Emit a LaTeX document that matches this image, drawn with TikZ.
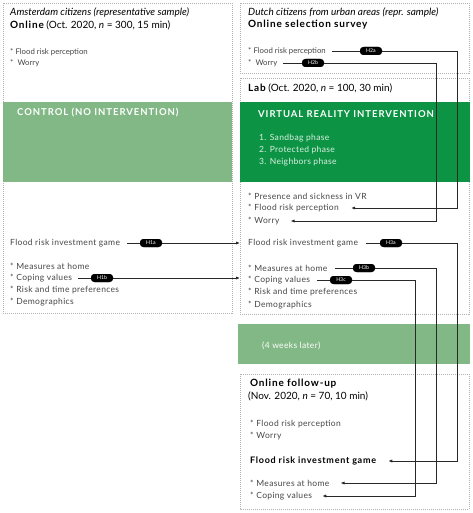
\documentclass[tikz,border=0pt]{standalone}
\usepackage{fontspec}
\setmainfont{Lato}
\newfontfamily\spc[LetterSpace=4]{Lato}
\newfontfamily\wide[LetterSpace=8]{Lato}
\newfontfamily\capsf[LetterSpace=10]{Lato}
\usetikzlibrary{arrows.meta,calc}
\definecolor{dkgreen}{RGB}{12,148,68}
\definecolor{ltgreen}{RGB}{130,184,134}
\definecolor{txt}{RGB}{70,70,70}
\definecolor{ln}{RGB}{40,40,40}
\tikzset{
  box/.style={draw=gray!60, dash pattern=on 1pt off 1pt, line width=0.5pt},
  ttl/.style={anchor=west, inner sep=0pt, font=\fontsize{10}{12}\selectfont, text=black},
  itms/.style={anchor=west, inner sep=0pt, font=\fontsize{7.8}{9}\selectfont, text=txt},
  itm/.style={anchor=west, inner sep=0pt, font=\spc\fontsize{8.5}{10}\selectfont, text=txt},
  band/.style={anchor=west, inner sep=0pt, text=white, font=\capsf\fontsize{9.5}{11}\selectfont\bfseries},
  hyp/.style={fill=black, rounded corners=3.5pt, text=white, font=\fontsize{5.2}{6}\selectfont,
    inner sep=0pt, minimum width=22pt, minimum height=8pt},
  conn/.style={draw=ln, line width=0.8pt},
  arr/.style={conn, -{Latex[length=4pt,width=3.2pt]}},
}
\begin{document}
\begin{tikzpicture}[x=1pt,y=-1pt]
\useasboundingbox (0,0) rectangle (472,513);
% boxes
\draw[box] (3,3) rectangle (232,313);
\fill[ltgreen] (3,102) rectangle (232,182);
\draw[box] (240,3) rectangle (469,73);
\draw[box] (240,78) rectangle (469,314);
\fill[dkgreen] (240,102) rectangle (470,182);
\fill[ltgreen] (238,324) rectangle (470,364);
\draw[box] (240,374) rectangle (469,509);

% left column
\node[ttl] (a1) at (10,12) {\itshape Amsterdam citizens (representative sample)};
\node[ttl] (a2) at (10,25) {{\wide\bfseries Online} (Oct. 2020, \textit{n} = 300, 15 min)};
\node[itms] (a3) at (10,52) {*\ Flood risk perception};
\node[itms] (a4) at (10,63) {*\ \ Worry};
\node[band] (ctl) at (17,113) {CONTROL (NO INTERVENTION)};
\node[itm] (a5) at (10,243) {Flood risk investment game};
\node[itm] (a6) at (10,266) {*\ Measures at home};
\node[itm] (a7) at (10,278) {*\ Coping values};
\node[itm] (a8) at (10,290) {*\ Risk and time preferences};
\node[itm] (a9) at (10,302) {*\ Demographics};

% right top
\node[ttl] (b1) at (248,12) {\itshape Dutch citizens from urban areas (repr. sample)};
\node[ttl] (b2) at (248,25) {\wide\bfseries Online selection survey};
\node[itms] (b3) at (248,51) {*\ Flood risk perception};
\node[itms] (b4) at (248,63) {*\ \ Worry};

% lab
\node[ttl] (c1) at (248,88) {{\wide\bfseries Lab} (Oct. 2020, \textit{n} = 100, 30 min)};
\node[band] (vr) at (258,114) {VIRTUAL REALITY INTERVENTION};
\node[itm, text=white!85!dkgreen] (p1) at (259,138) {1. Sandbag phase};
\node[itm, text=white!85!dkgreen] (p2) at (259,150) {2. Protected phase};
\node[itm, text=white!85!dkgreen] (p3) at (259,162) {3. Neighbors phase};
\node[itm] (c2) at (248,196) {*\ Presence and sickness in VR};
\node[itm] (c3) at (248,208) {*\ Flood risk perception};
\node[itm] (c4) at (248,221) {*\ Worry};
\node[itm] (c5) at (248,243) {Flood risk investment game};
\node[itm] (c6) at (248,268) {*\ Measures at home};
\node[itm] (c7) at (248,280) {*\ Coping values};
\node[itm] (c8) at (248,292) {*\ Risk and time preferences};
\node[itm] (c9) at (248,305) {*\ Demographics};

% 4 weeks
\node[itm, text=white] (wk) at (262,346) {(4 weeks later)};

% follow-up
\node[ttl] (d1) at (250,384) {\wide\bfseries Online follow-up};
\node[ttl] (d2) at (248,396) {(Nov. 2020, \textit{n} = 70, 10 min)};
\node[itm] (d3) at (250,424) {*\ Flood risk perception};
\node[itm] (d4) at (250,436) {*\ Worry};
\node[ttl, font=\wide\fontsize{9}{10}\selectfont\bfseries] (d5) at (250,461) {Flood risk investment game};
\node[itm] (d6) at (250,483) {*\ Measures at home};
\node[itm] (d7) at (250,496) {*\ Coping values};

% hypothesis pills (positions)
\node[hyp] (h1a) at (151,243) {H1a};
\node[hyp] (h1b) at (102,278) {H1b};
\node[hyp] (h2a) at (371,51) {H2a};
\node[hyp] (h2b) at (313,63) {H2b};
\node[hyp] (h3a) at (391,243) {H3a};
\node[hyp] (h3b) at (364,268) {H3b};
\node[hyp] (h3c) at (341,280) {H3c};

\coordinate (k2a) at (457,51);
\coordinate (k2b) at (436,63);
\coordinate (k3a) at (457,243);
\coordinate (k3b) at (436,268);
\coordinate (k3c) at (415,280);

% connectors
\draw[conn] ([xshift=7pt]a5.east) -- (h1a);
\draw[arr] (h1a) -- ([xshift=-8pt]c5.west);
\draw[conn] ([xshift=6pt]a7.east) -- (h1b);
\draw[arr] (h1b) -- ([xshift=-8pt]c7.west |- h1b);

\draw[conn] ([xshift=6pt]b3.east) -- (h2a);
\draw[arr] (h2a) -- (k2a) |- ([xshift=12pt]c3.east);
\draw[conn] ([xshift=6pt]b4.east) -- (h2b);
\draw[arr] (h2b) -- (k2b) |- ([xshift=11pt]c4.east);

\draw[conn] ([xshift=8pt]c5.east) -- (h3a);
\draw[arr] (h3a) -- (k3a) |- ([xshift=12pt]d5.east);
\draw[conn] ([xshift=7pt]c6.east) -- (h3b);
\draw[arr] (h3b) -- (k3b) |- ([xshift=11pt]d6.east);
\draw[conn] ([xshift=7pt]c7.east) -- (h3c);
\draw[arr] (h3c) -- (k3c) |- ([xshift=10pt]d7.east);

% redraw pills on top
\foreach \n/\t in {h1a/H1a,h1b/H1b,h2a/H2a,h2b/H2b,h3a/H3a,h3b/H3b,h3c/H3c}{
  \node[hyp] at (\n) {\t};
}
\end{tikzpicture}
\end{document}
